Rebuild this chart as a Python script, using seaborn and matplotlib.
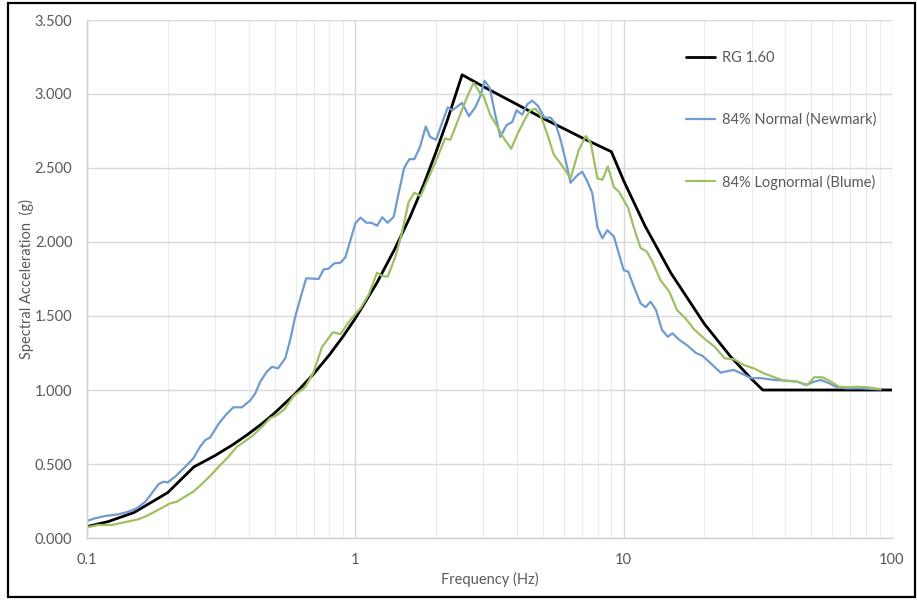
import matplotlib
matplotlib.use("Agg")
import matplotlib.pyplot as plt
import matplotlib.ticker as mticker
from matplotlib.patches import Rectangle
import seaborn as sns
import pandas as pd

# ---------------- data ----------------
rg_f = [0.1, 0.12, 0.15, 0.2, 0.25, 0.3, 0.35, 0.4, 0.45, 0.5, 0.6, 0.7, 0.8, 0.9, 1.0,
        1.2, 1.4, 1.6, 1.8, 2.0, 2.2, 2.5, 3.0, 4.0, 5.0, 6.0, 7.0, 8.0, 9.0, 10, 12, 15,
        20, 25, 30, 33, 100]
rg_v = [0.077, 0.111, 0.173, 0.307, 0.48, 0.557, 0.631, 0.704, 0.774, 0.844, 0.979, 1.11,
        1.237, 1.362, 1.484, 1.72, 1.95, 2.17, 2.39, 2.61, 2.82, 3.13, 3.05, 2.93, 2.836,
        2.765, 2.704, 2.654, 2.61, 2.414, 2.11, 1.79, 1.446, 1.227, 1.073, 1.0, 1.0]

newmark_f = [0.1, 0.107, 0.117, 0.131, 0.143, 0.153, 0.165, 0.174, 0.185, 0.193, 0.2, 0.213,
             0.232, 0.249, 0.264, 0.276, 0.288, 0.309, 0.332, 0.351, 0.378, 0.406, 0.424,
             0.442, 0.468, 0.489, 0.515, 0.548, 0.572, 0.597, 0.624, 0.656, 0.73, 0.762,
             0.795, 0.835, 0.88, 0.918, 0.958, 1.0, 1.045, 1.10, 1.15, 1.205, 1.26, 1.32,
             1.39, 1.45, 1.52, 1.59, 1.66, 1.74, 1.83, 1.90, 2.0, 2.10, 2.21, 2.30, 2.50,
             2.65, 2.80, 2.93, 3.03, 3.17, 3.33, 3.47, 3.66, 3.84, 3.99, 4.19, 4.37, 4.56,
             4.79, 5.07, 5.34, 5.57, 5.82, 6.08, 6.34, 6.71, 7.01, 7.32, 7.64, 7.98, 8.33,
             8.69, 9.2, 9.6, 10.0, 10.4, 10.9, 11.56, 12.07, 12.6, 13.2, 13.9, 14.6, 15.2,
             16.1, 17.3, 18.6, 19.7, 21.1, 23.0, 24.7, 25.8, 27.4, 29.8, 32.5, 36.4, 40.8,
             44.5, 47.7, 51.3, 54.3, 58.4, 62.7, 68.3, 76.6, 83.5, 90.6]
newmark_v = [0.115, 0.133, 0.149, 0.16, 0.178, 0.20, 0.245, 0.30, 0.365, 0.38, 0.376, 0.414,
             0.48, 0.538, 0.617, 0.662, 0.68, 0.77, 0.84, 0.883, 0.883, 0.93, 0.978, 1.056,
             1.124, 1.157, 1.146, 1.214, 1.34, 1.495, 1.62, 1.755, 1.75, 1.815, 1.82, 1.856,
             1.86, 1.897, 2.01, 2.126, 2.165, 2.13, 2.13, 2.11, 2.167, 2.13, 2.17, 2.33, 2.50,
             2.56, 2.56, 2.64, 2.78, 2.71, 2.69, 2.80, 2.91, 2.89, 2.94, 2.85, 2.91, 2.99,
             3.09, 3.04, 2.85, 2.71, 2.79, 2.81, 2.89, 2.86, 2.93, 2.955, 2.92, 2.84, 2.84,
             2.80, 2.69, 2.55, 2.40, 2.45, 2.475, 2.41, 2.33, 2.10, 2.025, 2.08, 2.036, 1.92,
             1.81, 1.80, 1.70, 1.586, 1.56, 1.597, 1.54, 1.405, 1.36, 1.383, 1.34, 1.30, 1.25,
             1.23, 1.18, 1.117, 1.13, 1.135, 1.113, 1.08, 1.08, 1.068, 1.063, 1.056, 1.034,
             1.056, 1.068, 1.045, 1.016, 1.011, 1.011, 1.007, 1.005]

blume_f = [0.1, 0.110, 0.124, 0.135, 0.147, 0.155, 0.167, 0.179, 0.193, 0.204, 0.216, 0.232,
           0.249, 0.268, 0.288, 0.309, 0.337, 0.362, 0.389, 0.417, 0.449, 0.482, 0.51, 0.544,
           0.589, 0.649, 0.699, 0.751, 0.825, 0.88, 0.958, 1.045, 1.12, 1.205, 1.26, 1.32,
           1.41, 1.49, 1.58, 1.66, 1.75, 1.87, 2.0, 2.16, 2.26, 2.47, 2.61, 2.76, 2.93, 3.0,
           3.18, 3.38, 3.58, 3.81, 4.02, 4.26, 4.48, 4.69, 4.89, 5.19, 5.49, 5.82, 6.34,
           6.80, 7.22, 7.54, 7.98, 8.33, 8.73, 9.2, 9.6, 10.4, 10.9, 11.56, 12.2, 12.8, 13.7,
           14.8, 15.8, 17.0, 18.3, 19.9, 21.8, 23.8, 25.8, 28.0, 30.5, 33.3, 36.4, 39.7,
           44.5, 48.3, 51.3, 55.1, 58.4, 63.5, 68.3, 74.6, 81.3, 86.0, 90.6]
blume_v = [0.072, 0.088, 0.088, 0.103, 0.117, 0.126, 0.149, 0.178, 0.21, 0.234, 0.245, 0.28,
           0.313, 0.365, 0.42, 0.48, 0.55, 0.617, 0.655, 0.696, 0.752, 0.81, 0.83, 0.87, 0.96,
           1.018, 1.12, 1.29, 1.39, 1.378, 1.473, 1.552, 1.642, 1.793, 1.77, 1.766, 1.90,
           2.06, 2.27, 2.333, 2.31, 2.43, 2.55, 2.70, 2.69, 2.87, 2.98, 3.076, 3.00, 2.99,
           2.86, 2.78, 2.70, 2.63, 2.73, 2.82, 2.89, 2.90, 2.86, 2.73, 2.59, 2.53, 2.43, 2.62,
           2.716, 2.67, 2.43, 2.42, 2.51, 2.37, 2.34, 2.23, 2.10, 1.96, 1.935, 1.867, 1.743,
           1.664, 1.54, 1.484, 1.41, 1.35, 1.293, 1.214, 1.207, 1.169, 1.147, 1.113, 1.086,
           1.063, 1.056, 1.034, 1.086, 1.086, 1.063, 1.022, 1.018, 1.022, 1.018, 1.011, 1.005]

series_names = ["RG 1.60", "84% Normal (Newmark)", "84% Lognormal (Blume)"]
x_ticks = [0.1, 1, 10, 100]
x_tick_labels = ["0.1", "1", "10", "100"]
y_ticks = [0.0, 0.5, 1.0, 1.5, 2.0, 2.5, 3.0, 3.5]

df = pd.concat([
    pd.DataFrame({"f": rg_f, "sa": rg_v, "series": series_names[0]}),
    pd.DataFrame({"f": newmark_f, "sa": newmark_v, "series": series_names[1]}),
    pd.DataFrame({"f": blume_f, "sa": blume_v, "series": series_names[2]}),
], ignore_index=True)

# ---------------- style ----------------
sns.set_style("white")
plt.rcParams["font.family"] = ["Lato", "DejaVu Sans"]

colors = {series_names[0]: "#000000",
          series_names[1]: "#6f9bd1",
          series_names[2]: "#9dc063"}
widths = {series_names[0]: 2.0, series_names[1]: 1.6, series_names[2]: 1.6}

fig = plt.figure(figsize=(9.17, 6.0), dpi=100)
ax = fig.add_axes([87 / 917, 1 - 538 / 600, (892 - 87) / 917, (538 - 20) / 600])

ax.set_xscale("log")
for name in series_names:
    sub = df[df["series"] == name]
    sns.lineplot(data=sub, x="f", y="sa", ax=ax, color=colors[name],
                 linewidth=widths[name], label=name, sort=False, estimator=None)

ax.set_xlim(0.1, 100)
ax.set_ylim(0, 3.5)
ax.set_xticks(x_ticks)
ax.set_xticklabels(x_tick_labels)
ax.xaxis.set_minor_locator(mticker.LogLocator(base=10, subs=range(2, 10)))
ax.xaxis.set_minor_formatter(mticker.NullFormatter())
ax.set_yticks(y_ticks)
ax.yaxis.set_major_formatter(mticker.FuncFormatter(lambda v, p: f"{v:.3f}"))

ax.grid(True, which="major", axis="both", color="#d9d9d9", linewidth=1.0)
ax.grid(True, which="minor", axis="x", color="#ececec", linewidth=0.9)
ax.set_axisbelow(True)

for s in ["top", "right"]:
    ax.spines[s].set_visible(False)
for s in ["left", "bottom"]:
    ax.spines[s].set_color("#d0d0d0")
    ax.spines[s].set_linewidth(1.0)

ax.tick_params(axis="both", which="both", length=0, labelsize=10.5, colors="#595959")
ax.tick_params(axis="y", pad=10.5)
ax.tick_params(axis="x", pad=11)

ax.set_xlabel("Frequency (Hz)", fontsize=10.5, color="#595959")
ax.set_ylabel("Spectral Acceleration  (g)", fontsize=10.5, color="#595959")
ax.xaxis.set_label_coords(0.5, (538 - 572) / 518)
ax.yaxis.set_label_coords((34 - 87) / 805, 0.5)

leg = ax.legend(loc="center left", bbox_to_anchor=(686 / 917, 1 - 120.5 / 600),
                bbox_transform=fig.transFigure, frameon=False, fontsize=10.5,
                labelspacing=3.25, handlelength=2.0, handletextpad=0.5,
                borderpad=0, borderaxespad=0)
for t in leg.get_texts():
    t.set_color("#595959")

fig.patches.append(Rectangle((8 / 917, 3 / 600), (915 - 8) / 917, (597 - 3) / 600,
                             transform=fig.transFigure, fill=False,
                             edgecolor="black", linewidth=1.6))

fig.savefig("out.png", dpi=100)
